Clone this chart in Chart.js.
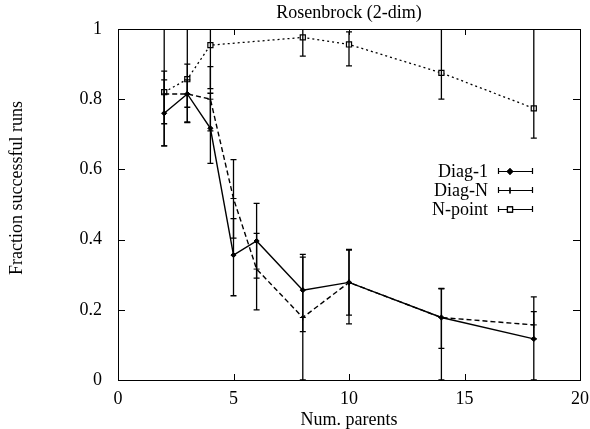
<!DOCTYPE html>
<html>
<head>
<meta charset="utf-8">
<script src="https://cdn.jsdelivr.net/npm/chart.js@4.4.0/dist/chart.umd.min.js"></script>
<style>
  html, body { margin: 0; padding: 0; background: #fff; }
  #wrap { width: 590px; height: 429px; }
</style>
</head>
<body>
<div id="wrap"><canvas id="c" width="590" height="429"></canvas></div>
<script>
// ---- Data ----
const titleText = 'Rosenbrock (2-dim)';
const xTitle = 'Num. parents';
const yTitle = 'Fraction successful runs';
const seriesNames = ['Diag-1', 'Diag-N', 'N-point'];

const xParents = [2, 3, 4, 5, 6, 8, 10, 14, 18];
const diag1 =     [0.760, 0.815, 0.717, 0.356, 0.396, 0.256, 0.278, 0.178, 0.117];
const diag1Low =  [0.667, 0.733, 0.617, 0.240, 0.290, 0.138, 0.160, 0.090, 0.000];
const diag1High = [0.855, 0.900, 0.817, 0.460, 0.503, 0.350, 0.372, 0.261, 0.237];

const diagN =     [0.815, 0.815, 0.800, 0.517, 0.316, 0.178, 0.278, 0.178, 0.157];
const diagNLow =  [0.730, 0.777, 0.710, 0.404, 0.200, 0.000, 0.185, 0.000, 0.117];
const diagNHigh = [0.880, 0.855, 0.893, 0.628, 0.418, 0.358, 0.370, 0.260, 0.195];

const xNpoint =    [2, 3, 4, 8, 10, 14, 18];
const npoint =     [0.820, 0.857, 0.954, 0.976, 0.956, 0.875, 0.774];
const npointLow =  [0.667, 0.735, 0.830, 0.923, 0.895, 0.800, 0.689];
const npointHigh = [1.050, 1.050, 1.050, 1.030, 0.992, 1.050, 1.050];

const xTicks = [0, 5, 10, 15, 20];
const yTicks = [0, 0.2, 0.4, 0.6, 0.8, 1];

// ---- Build ----
const FONT = "'Liberation Serif', 'DejaVu Serif', serif";
const FSIZE = 18;
const pts = (xs, ys) => xs.map((x, i) => ({ x: x, y: ys[i] }));

const datasets = [
  { label: seriesNames[0], data: pts(xParents, diag1), low: diag1Low, high: diag1High,
    borderColor: '#000', backgroundColor: '#000', borderWidth: 1.4,
    pointStyle: 'rectRot', pointRadius: 2.6, pointBackgroundColor: '#000', pointBorderColor: '#000', pointBorderWidth: 1 },
  { label: seriesNames[1], data: pts(xParents, diagN), low: diagNLow, high: diagNHigh,
    borderColor: '#000', backgroundColor: '#000', borderWidth: 1.4, borderDash: [5, 3],
    pointStyle: 'cross', pointRadius: 3, pointBorderColor: '#000', pointBorderWidth: 1 },
  { label: seriesNames[2], data: pts(xNpoint, npoint), low: npointLow, high: npointHigh,
    borderColor: '#000', backgroundColor: '#fff', borderWidth: 1.3, borderDash: [2, 3],
    pointStyle: 'rect', pointRadius: 3.6, pointBackgroundColor: '#fff', pointBorderColor: '#000', pointBorderWidth: 1.2 }
];

const errorBars = {
  id: 'errorBars',
  afterDatasetsDraw(chart) {
    const { ctx, chartArea, scales } = chart;
    ctx.save();
    ctx.beginPath();
    ctx.rect(chartArea.left, chartArea.top, chartArea.right - chartArea.left, chartArea.bottom - chartArea.top);
    ctx.clip();
    ctx.strokeStyle = '#000';
    ctx.lineWidth = 1.3;
    ctx.setLineDash([]);
    chart.data.datasets.forEach(ds => {
      ds.data.forEach((p, i) => {
        const px = scales.x.getPixelForValue(p.x);
        const lo = scales.y.getPixelForValue(ds.low[i]);
        const hi = scales.y.getPixelForValue(ds.high[i]);
        ctx.beginPath();
        ctx.moveTo(px, lo); ctx.lineTo(px, hi);
        ctx.moveTo(px - 3, lo); ctx.lineTo(px + 3, lo);
        ctx.moveTo(px - 3, hi); ctx.lineTo(px + 3, hi);
        ctx.stroke();
      });
    });
    ctx.restore();
  }
};

const innerTicks = {
  id: 'innerTicks',
  afterDraw(chart) {
    const { ctx, chartArea, scales } = chart;
    ctx.save();
    ctx.strokeStyle = '#000';
    ctx.lineWidth = 1;
    ctx.beginPath();
    scales.x.ticks.forEach(t => {
      const px = Math.round(scales.x.getPixelForValue(t.value)) + 0.5;
      ctx.moveTo(px, chartArea.bottom); ctx.lineTo(px, chartArea.bottom - 6);
      ctx.moveTo(px, chartArea.top); ctx.lineTo(px, chartArea.top + 6);
    });
    scales.y.ticks.forEach(t => {
      const py = Math.round(scales.y.getPixelForValue(t.value)) + 0.5;
      ctx.moveTo(chartArea.left, py); ctx.lineTo(chartArea.left + 7, py);
      ctx.moveTo(chartArea.right, py); ctx.lineTo(chartArea.right - 7, py);
    });
    ctx.stroke();
    // y-axis title, placed as in the reference
    ctx.font = FSIZE + 'px ' + FONT;
    ctx.fillStyle = '#000';
    ctx.textAlign = 'center';
    ctx.textBaseline = 'middle';
    ctx.translate(17, 188);
    ctx.rotate(-Math.PI / 2);
    ctx.fillText(yTitle, 0, 0);
    ctx.restore();
  }
};

const legendBox = {
  id: 'legendBox',
  afterDraw(chart) {
    const { ctx } = chart;
    const rows = [171, 190, 209];
    const textRight = 488, l0 = 498, l1 = 533, mx = 510;
    ctx.save();
    ctx.font = FSIZE + 'px ' + FONT;
    ctx.fillStyle = '#000';
    ctx.textAlign = 'right';
    ctx.textBaseline = 'middle';
    chart.data.datasets.forEach((ds, i) => {
      const y = rows[i];
      ctx.fillText(ds.label, textRight, y + 1);
      ctx.strokeStyle = '#000';
      ctx.lineWidth = 1.2;
      ctx.setLineDash([]);
      ctx.beginPath();
      ctx.moveTo(l0, y + 0.5); ctx.lineTo(l1, y + 0.5);
      ctx.moveTo(l0 + 0.5, y - 3); ctx.lineTo(l0 + 0.5, y + 3);
      ctx.moveTo(l1 - 0.5, y - 3); ctx.lineTo(l1 - 0.5, y + 3);
      ctx.stroke();
      Chart.helpers.drawPoint(ctx, {
        pointStyle: ds.pointStyle, radius: ds.pointRadius, borderWidth: ds.pointBorderWidth, rotation: 0
      }, mx, y + 0.5);
      ctx.fillStyle = ds.pointBackgroundColor || '#000';
      if (ds.pointStyle !== 'cross') ctx.fill();
      ctx.stroke();
      ctx.fillStyle = '#000';
    });
    ctx.restore();
  }
};

new Chart(document.getElementById('c'), {
  type: 'line',
  data: { datasets: datasets },
  plugins: [errorBars, innerTicks, legendBox],
  options: {
    responsive: false,
    animation: false,
    devicePixelRatio: 1,
    layout: { padding: 0 },
    plugins: { legend: { display: false }, tooltip: { enabled: false }, title: { display: false } },
    elements: { line: { tension: 0, fill: false } },
    scales: {
      x: {
        type: 'linear', position: 'bottom', min: 0, max: 20,
        afterBuildTicks: s => { s.ticks = xTicks.map(v => ({ value: v })); },
        afterFit: s => { s.height = 49; s.paddingLeft = 0; s.paddingRight = 0; },
        ticks: { color: '#000', font: { family: FONT, size: FSIZE }, padding: 8, maxRotation: 0, autoSkip: false,
                 callback: v => String(v) },
        grid: { display: true, drawOnChartArea: false, drawTicks: false, color: '#000' },
        border: { display: true, color: '#000', width: 1 },
        title: { display: true, text: xTitle, color: '#000', font: { family: FONT, size: FSIZE, lineHeight: 1 }, padding: { top: 0, bottom: 0 } }
      },
      x2: {
        type: 'linear', position: 'top', min: 0, max: 20,
        afterFit: s => { s.height = 29; s.paddingLeft = 0; s.paddingRight = 0; },
        ticks: { display: false },
        grid: { display: true, drawOnChartArea: false, drawTicks: false, color: '#000' },
        border: { display: true, color: '#000', width: 1 },
        title: { display: true, text: titleText, color: '#000', font: { family: FONT, size: FSIZE }, padding: { top: 2, bottom: 0 } }
      },
      y: {
        type: 'linear', position: 'left', min: 0, max: 1,
        afterBuildTicks: s => { s.ticks = yTicks.map(v => ({ value: v })); },
        afterFit: s => { s.width = 118; s.paddingTop = 0; s.paddingBottom = 0; },
        ticks: { color: '#000', font: { family: FONT, size: FSIZE }, padding: 16, callback: v => String(v) },
        grid: { display: true, drawOnChartArea: false, drawTicks: false, color: '#000' },
        border: { display: true, color: '#000', width: 1 },
        title: { display: false }
      },
      y2: {
        type: 'linear', position: 'right', min: 0, max: 1,
        afterFit: s => { s.width = 10; s.paddingTop = 0; s.paddingBottom = 0; },
        ticks: { display: false },
        grid: { display: true, drawOnChartArea: false, drawTicks: false, color: '#000' },
        border: { display: true, color: '#000', width: 1 }
      }
    }
  }
});
</script>
</body>
</html>
